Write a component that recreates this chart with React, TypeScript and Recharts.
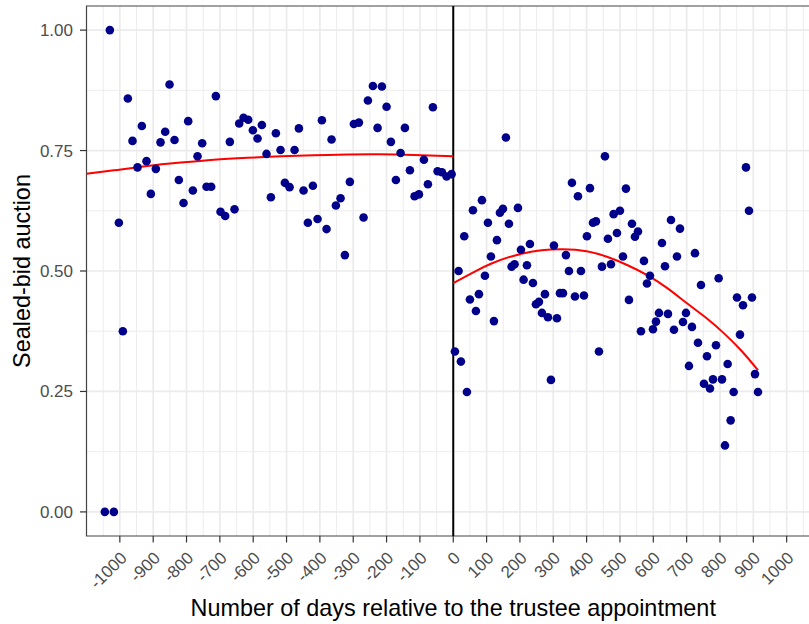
import {
  CartesianGrid,
  ComposedChart,
  Line,
  ReferenceArea,
  ReferenceLine,
  Scatter,
  XAxis,
  YAxis,
} from "recharts";

// days relative to the trustee appointment, before (left) and after (right)
const leftDays = [
  -1045, -1018, -1030, -1003, -991, -976, -962, -947, -934, -920, -907, -892,
  -878, -864, -851, -836, -823, -809, -795, -781, -767, -753, -740, -726, -712,
  -698, -684, -670, -656, -642, -629, -615, -601, -587, -574, -560, -547, -532,
  -518, -505, -491, -476, -463, -449, -436, -421, -407, -394, -380, -365, -352,
  -338, -325, -310, -298, -283, -269, -256, -241, -227, -214, -200, -187, -172,
  -158, -145, -130, -116, -103, -88, -76, -61, -47, -34, -20, -5,
];
const leftShares = [
  0, 0, 1.0, 0.6, 0.375, 0.858, 0.77, 0.715, 0.801, 0.728, 0.66, 0.712, 0.767,
  0.789, 0.887, 0.772, 0.689, 0.641, 0.811, 0.667, 0.738, 0.765, 0.675, 0.675,
  0.863, 0.623, 0.614, 0.768, 0.628, 0.806, 0.818, 0.814, 0.792, 0.775, 0.803,
  0.743, 0.653, 0.786, 0.751, 0.683, 0.674, 0.751, 0.796, 0.667, 0.6, 0.677,
  0.608, 0.813, 0.587, 0.773, 0.636, 0.651, 0.533, 0.685, 0.805, 0.808, 0.611,
  0.854, 0.884, 0.797, 0.883, 0.841, 0.768, 0.689, 0.745, 0.797, 0.709, 0.655,
  0.659, 0.731, 0.68, 0.84, 0.707, 0.705, 0.696, 0.701,
];
const rightDays = [
  5, 23, 16, 33, 41, 50, 59, 68, 77, 86, 95, 104, 113, 122, 131, 140, 149, 158,
  167, 175, 184, 194, 203, 211, 221, 230, 239, 248, 257, 266, 275, 284, 293,
  302, 311, 320, 329, 338, 347, 356, 365, 374, 383, 392, 401, 410, 419, 428,
  437, 446, 455, 464, 473, 481, 491, 500, 509, 518, 527, 536, 545, 554, 563,
  572, 581, 590, 599, 608, 617, 626, 635, 644, 653, 662, 671, 680, 689, 698,
  707, 716, 725, 734, 743, 752, 761, 770, 779, 788, 796, 806, 815, 823, 832,
  841, 851, 860, 869, 878, 887, 896, 905, 914,
];
const rightShares = [
  0.333, 0.312, 0.5, 0.572, 0.249, 0.441, 0.626, 0.417, 0.452, 0.647, 0.49, 0.6,
  0.53, 0.396, 0.564, 0.621, 0.629, 0.777, 0.598, 0.509, 0.514, 0.631, 0.544,
  0.482, 0.512, 0.556, 0.475, 0.431, 0.436, 0.413, 0.452, 0.404, 0.274, 0.553,
  0.402, 0.454, 0.454, 0.533, 0.5, 0.683, 0.447, 0.655, 0.5, 0.449, 0.572,
  0.672, 0.6, 0.603, 0.333, 0.509, 0.738, 0.567, 0.514, 0.618, 0.579, 0.625,
  0.53, 0.671, 0.44, 0.598, 0.571, 0.582, 0.375, 0.521, 0.474, 0.49, 0.379,
  0.395, 0.413, 0.558, 0.51, 0.411, 0.606, 0.378, 0.53, 0.588, 0.394, 0.413,
  0.303, 0.384, 0.537, 0.351, 0.471, 0.266, 0.323, 0.256, 0.275, 0.346, 0.485,
  0.275, 0.138, 0.307, 0.19, 0.249, 0.445, 0.368, 0.429, 0.715, 0.625, 0.445,
  0.286, 0.249,
];

// quadratic fits
const leftFitDays = [-1100, -1018, -917, -818, -718, -617, -518, -418, -317, -218, -118, 0];
const leftFitShares = [0.702, 0.709, 0.718, 0.725, 0.731, 0.735, 0.738, 0.74, 0.742, 0.7425, 0.741, 0.738];
const rightFitDays = [0, 60, 113, 212, 322, 400, 463, 523, 583, 643, 703, 760, 813, 865, 914];
const rightFitShares = [0.475, 0.497, 0.515, 0.537, 0.545, 0.541, 0.529, 0.512, 0.491, 0.464, 0.432, 0.402, 0.37, 0.334, 0.294];

const xTicks = [
  -1000, -900, -800, -700, -600, -500, -400, -300, -200, -100, 0, 100, 200,
  300, 400, 500, 600, 700, 800, 900, 1000,
];
const xMinor = [
  -1050, -950, -850, -750, -650, -550, -450, -350, -250, -150, -50, 50, 150,
  250, 350, 450, 550, 650, 750, 850, 950, 1050,
];
const yTicks = [0, 0.25, 0.5, 0.75, 1];
const yMinor = [0.125, 0.375, 0.625, 0.875];

const pairs = (xs: number[], ys: number[]) => xs.map((x, i) => ({ x, y: ys[i] }));

const points = [...pairs(leftDays, leftShares), ...pairs(rightDays, rightShares)];
const leftFit = pairs(leftFitDays, leftFitShares);
const rightFit = pairs(rightFitDays, rightFitShares);

const font = "'Liberation Sans', Arial, sans-serif";
const tickColor = "#4d4d4d";

function AngledTick({ x, y, payload }: any) {
  const bx = x + 8;
  const by = y + 14.5;
  return (
    <text
      x={bx}
      y={by}
      transform={`rotate(-45 ${bx} ${by})`}
      textAnchor="end"
      fill={tickColor}
      fontSize={17}
      fontFamily={font}
    >
      {payload.value}
    </text>
  );
}

export default function App() {
  return (
    <div style={{ position: "absolute", left: 0, top: 0, width: 809, height: 624, overflow: "hidden", background: "#fff" }}>
      <ComposedChart width={820} height={624} margin={{ top: 6, right: 0, bottom: 0, left: 0 }}>
        <CartesianGrid
          verticalValues={xMinor}
          horizontalValues={yMinor}
          stroke="#ebebeb"
          strokeWidth={0.9}
        />
        <CartesianGrid
          verticalValues={xTicks}
          horizontalValues={yTicks}
          stroke="#ebebeb"
          strokeWidth={1.7}
        />
        <XAxis
          type="number"
          dataKey="x"
          domain={[-1100, 1100]}
          ticks={xTicks}
          allowDataOverflow
          axisLine={false}
          tickLine={{ stroke: "#333", strokeWidth: 1.2 }}
          tickSize={6.5}
          height={88}
          tick={<AngledTick />}
          interval={0}
          label={{
            content: ({ viewBox }: any) => (
              <text
                x={viewBox.x + viewBox.width / 2}
                y={viewBox.y + viewBox.height - 8}
                textAnchor="middle"
                fontSize={23.4}
                fontFamily={font}
                fill="#000"
              >
                Number of days relative to the trustee appointment
              </text>
            ),
          }}
        />
        <YAxis
          type="number"
          dataKey="y"
          domain={[-0.05, 1.05]}
          ticks={yTicks}
          allowDataOverflow
          axisLine={false}
          tickLine={{ stroke: "#333", strokeWidth: 1.2 }}
          tickSize={6.5}
          tickMargin={7}
          width={86.5}
          tickFormatter={(v: number) => v.toFixed(2)}
          tick={{ fill: tickColor, fontSize: 17, fontFamily: font }}
          label={{
            content: ({ viewBox }: any) => {
              const cx = 22;
              const cy = viewBox.y + viewBox.height / 2;
              return (
                <text
                  x={cx}
                  y={cy}
                  transform={`rotate(-90 ${cx} ${cy})`}
                  textAnchor="middle"
                  dominantBaseline="central"
                  fontSize={23.4}
                  fontFamily={font}
                  fill="#000"
                >
                  Sealed-bid auction
                </text>
              );
            },
          }}
        />
        <ReferenceLine x={0} stroke="#000" strokeWidth={2} />
        <Scatter
          data={points}
          isAnimationActive={false}
          shape={(p: any) => <circle cx={p.cx} cy={p.cy} r={4.3} fill="#00008b" />}
        />
        <Line
          data={leftFit}
          dataKey="y"
          type="natural"
          stroke="#ff0000"
          strokeWidth={2}
          dot={false}
          activeDot={false}
          isAnimationActive={false}
        />
        <Line
          data={rightFit}
          dataKey="y"
          type="natural"
          stroke="#ff0000"
          strokeWidth={2}
          dot={false}
          activeDot={false}
          isAnimationActive={false}
        />
        <ReferenceArea
          x1={-1100}
          x2={1100}
          y1={-0.05}
          y2={1.05}
          fill="none"
          stroke="#444"
          strokeWidth={1.2}
        />
      </ComposedChart>
    </div>
  );
}
